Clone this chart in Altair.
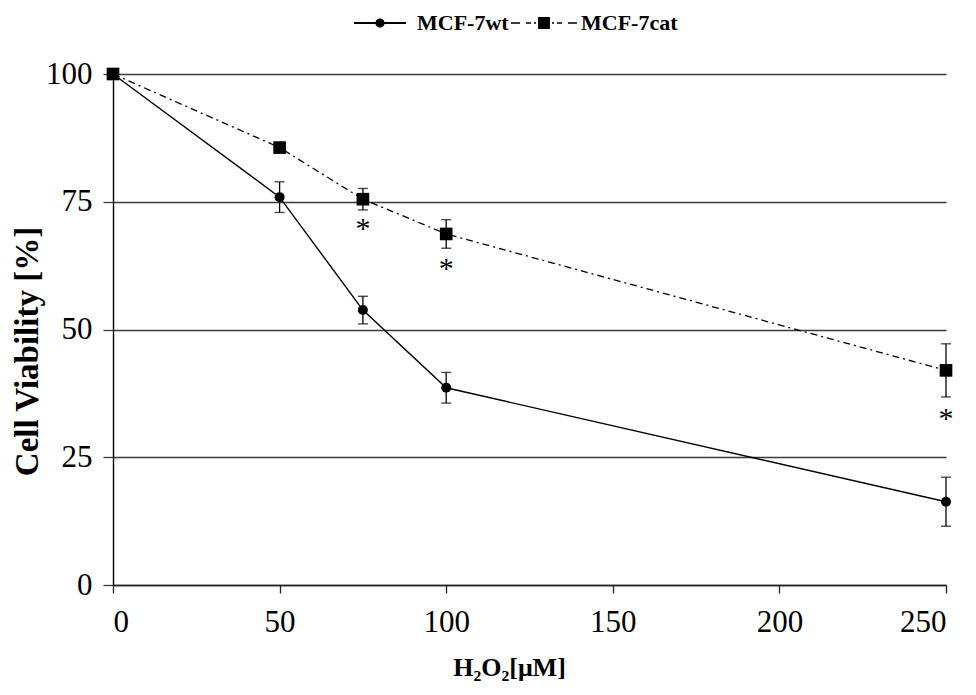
import altair as alt
import pandas as pd

# ---- data ----
doses = [0, 50, 75, 100, 250]
wt_mean = [100.0, 75.9, 53.8, 38.6, 16.3]
wt_err = [0.0, 3.0, 2.7, 3.0, 4.8]
cat_mean = [100.0, 85.6, 75.5, 68.7, 42.0]
cat_err = [0.5, 0.9, 2.1, 2.8, 5.2]
star_doses = [75, 100, 250]
star_y = [70.8, 63.0, 33.7]
series_names = ["MCF-7wt", "MCF-7cat"]
x_ticks = [0, 50, 100, 150, 200, 250]
y_ticks = [0, 25, 50, 75, 100]

FONT = "Liberation Serif"

rows = []
for name, means, errs in [(series_names[0], wt_mean, wt_err), (series_names[1], cat_mean, cat_err)]:
    for d, m, e in zip(doses, means, errs):
        rows.append({"series": name, "dose": d, "mean": m, "lo": m - e, "hi": m + e, "err": e})
df = pd.DataFrame(rows)
stars = pd.DataFrame({"dose": star_doses, "y": star_y, "t": ["*"] * len(star_doses)})

x_axis = alt.Axis(
    values=x_ticks, title="H₂O₂[μM]", grid=False, tickSize=8, labelPadding=14,
    labelFont=FONT, titleFont=FONT, labelColor="black", titleColor="black",
    labelFontSize=31, titleFontSize=26, titleFontWeight="bold", titleX=396, titlePadding=17,
    domainColor="#222", domainWidth=1.3, tickColor="#222", tickWidth=1.3,
)
y_axis = alt.Axis(
    values=y_ticks, title="Cell Viability [%]", grid=True, gridColor="#3a3a3a", gridWidth=1.3,
    labelFont=FONT, titleFont=FONT, labelColor="black", titleColor="black",
    tickSize=10, labelPadding=11, labelFontSize=31, titleFontSize=33, titleFontWeight="bold",
    titleX=-86, titleY=277, titleBaseline="middle", titleAlign="center",
    domainColor="black", domainWidth=1.4, tickColor="#3a3a3a", tickWidth=1.3,
)
xs = alt.Scale(domain=[0, 250], nice=False, zero=False)
ys = alt.Scale(domain=[0, 100], nice=False)

X = alt.X("dose:Q", scale=xs, axis=x_axis)

base = alt.Chart(df)
wt = base.transform_filter(alt.datum.series == series_names[0])
cat = base.transform_filter(alt.datum.series == series_names[1])

def errbars(src):
    s = src.transform_filter(alt.datum.err > 0)
    rule = s.mark_rule(color="black", strokeWidth=1.3).encode(
        x=X, y=alt.Y("lo:Q", scale=ys, axis=y_axis), y2="hi:Q")
    cap_lo = s.mark_tick(color="black", orient="horizontal", size=10, thickness=1.4).encode(
        x=X, y=alt.Y("lo:Q", scale=ys, axis=y_axis))
    cap_hi = s.mark_tick(color="black", orient="horizontal", size=10, thickness=1.4).encode(
        x=X, y=alt.Y("hi:Q", scale=ys, axis=y_axis))
    return [rule, cap_lo, cap_hi]

Y = alt.Y("mean:Q", scale=ys, axis=y_axis)

line_wt = wt.mark_line(color="black", strokeWidth=1.4).encode(x=X, y=Y)
line_cat = cat.mark_line(color="black", strokeWidth=1.3, strokeDash=[7, 4, 2, 4]).encode(x=X, y=Y)
pts_wt = wt.mark_point(shape="circle", filled=True, color="black", size=100, opacity=1).encode(x=X, y=Y)
pts_cat = cat.mark_point(shape="square", filled=True, color="black", size=160, opacity=1).encode(x=X, y=Y)

star_layer = alt.Chart(stars).mark_text(
    font=FONT, fontSize=30, color="black", baseline="middle", dy=6
).encode(x=alt.X("dose:Q", scale=xs, axis=x_axis), y=alt.Y("y:Q", scale=ys, axis=y_axis), text="t:N")

# legend symbols: custom paths (unit = 33 px), line + marker
wt_path = (
    "M-0.79,-0.028H-0.13V0.028H-0.79Z "
    "M0.13,-0.028H0.79V0.028H0.13Z "
    "M0.14,0A0.14,0.14 0 1,1 -0.14,0A0.14,0.14 0 1,1 0.14,0Z"
)
cat_path = (
    "M-1,-0.022H-0.727V0.022H-1Z "
    "M-0.545,-0.022H-0.394V0.022H-0.545Z "
    "M-0.303,-0.022H-0.242V0.022H-0.303Z "
    "M-0.18,-0.18H0.18V0.18H-0.18Z "
    "M0.242,-0.022H0.303V0.022H0.242Z "
    "M0.394,-0.022H0.545V0.022H0.394Z "
    "M0.727,-0.022H1V0.022H0.727Z"
)
legend_layer = base.transform_filter("false").mark_point(filled=True, color="black").encode(
    shape=alt.Shape(
        "series:N",
        scale=alt.Scale(domain=series_names, range=[wt_path, cat_path]),
        legend=alt.Legend(
            orient="none", legendX=234, legendY=-84, direction="horizontal", title=None,
            symbolSize=4356, symbolFillColor="black", symbolStrokeWidth=0, symbolOpacity=1,
            labelFont=FONT, labelFontSize=22, labelFontWeight="bold", labelColor="black",
            labelOffset=4, columnPadding=2, padding=0,
        ),
    )
)

layers = errbars(wt) + errbars(cat) + [line_wt, line_cat, pts_wt, pts_cat, star_layer, legend_layer]

chart = alt.layer(*layers).properties(
    width=833, height=511,
    background="white",
    autosize=alt.AutoSizeParams(type="none"),
    padding={"left": 105, "top": 66, "right": 22, "bottom": 100},
).configure_view(stroke=None)

chart.save("out.html", embed_options={"renderer": "svg", "actions": False})
